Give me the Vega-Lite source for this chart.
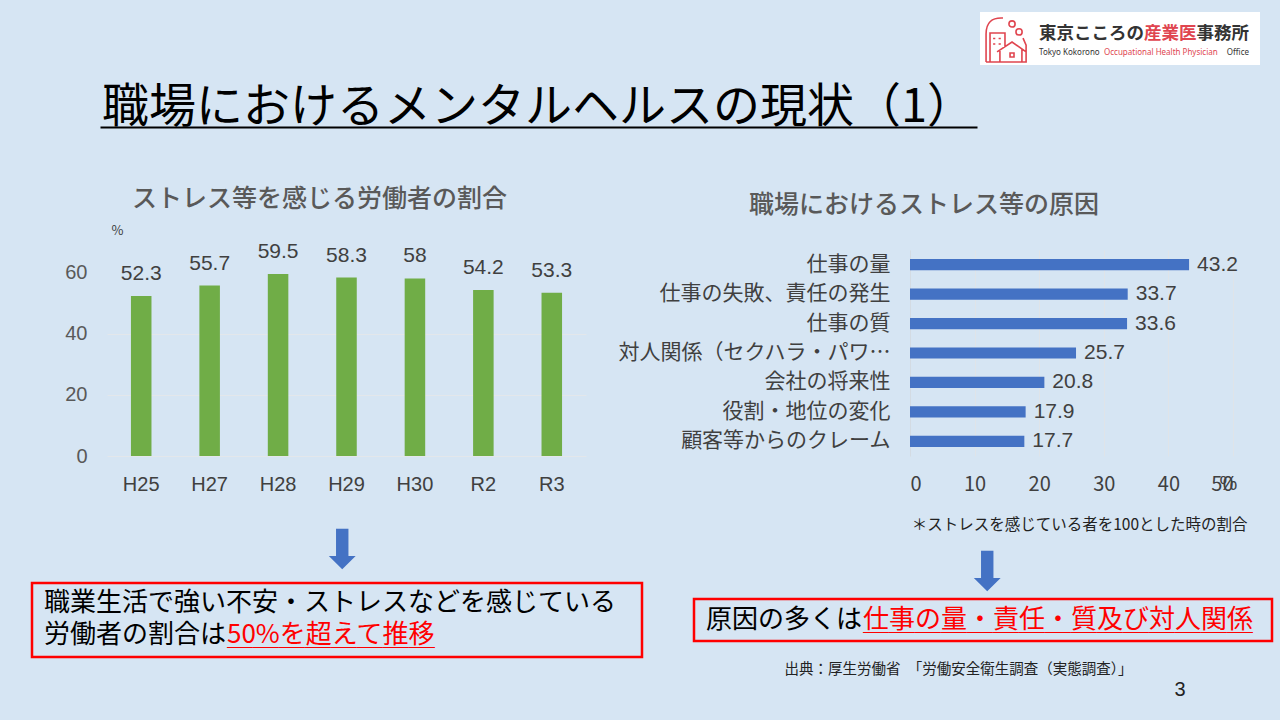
{
  "$schema": "https://vega.github.io/schema/vega-lite/v6.json",
  "background": "#d6e5f3",
  "padding": {"left": 30, "top": 12, "right": 9, "bottom": 16},
  "config": {
    "view": {"stroke": null},
    "font": "Noto Sans CJK JP",
    "title": {"fontWeight": "normal", "color": "#595959", "font": "Noto Sans CJK JP"},
    "axis": {"labelFont": "Noto Sans CJK JP", "titleFont": "Noto Sans CJK JP"}
  },
  "spacing": -10,
  "vconcat": [
    {
      "spacing": 0,
      "bounds": "flush",
      "hconcat": [
        {"width": 68, "height": 185, "data": {"values": [{}]}, "mark": {"type": "text", "fontSize": 0}, "encoding": {"text": {"value": ""}}},
        {
          "width": 877, "height": 115,
          "data": {"values": [{"t": "職場におけるメンタルヘルスの現状（1）"}]},
          "mark": {"type": "text", "align": "left", "baseline": "middle", "fontSize": 47, "dx": 2, "dy": 38, "color": "#000000"},
          "encoding": {
            "text": {"field": "t"},
            "x": {"datum": 0, "type": "quantitative", "scale": {"domain": [0, 1]},
                  "axis": {"domainColor": "#000000", "domainWidth": 2, "labels": false, "ticks": false, "grid": false, "title": null}}
          }
        },
        {"width": 3, "height": 1, "data": {"values": [{}]}, "mark": {"type": "text", "fontSize": 0}, "encoding": {"text": {"value": ""}}},
        {
          "width": 57, "height": 53,
          "view": {"fill": "#ffffff"},
          "data": {"values": [{}]},
          "mark": {"type": "point", "shape": "M-1.02 1.07 L-1.02 -0.2 Q-1.02 -0.98 -0.25 -0.93 M0.3 -0.66 A0.14 0.14 0 1 1 0.02 -0.66 A0.14 0.14 0 1 1 0.3 -0.66 M0.62 -0.3 A0.14 0.14 0 1 1 0.34 -0.3 A0.14 0.14 0 1 1 0.62 -0.3 M0.66 -0.02 L0.8 0.3 L0.8 1.07 L-1.02 1.07 M-0.84 1.07 L-0.84 -0.25 L-0.16 -0.25 L-0.16 0.4 M-0.52 0.61 L0.16 0.16 L0.8 0.61 M-0.39 0.5 L-0.39 1.07 M0.61 0.5 L0.61 1.07 M0.07 0.66 L0.25 0.66 L0.25 0.84 L0.07 0.84 Z M-0.7 0 L-0.6 0 M-0.45 0 L-0.35 0 M-0.7 0.25 L-0.6 0.25 M-0.45 0.25 L-0.35 0.25", "size": 1936, "filled": false, "color": "#e0454f", "strokeWidth": 1.6, "opacity": 1},
          "encoding": {}
        },
        {
          "width": 223, "height": 53,
          "view": {"fill": "#ffffff"},
          "layer": [
            {"data": {"values": [{"t": "東京こころの"}]}, "mark": {"type": "text", "align": "left", "baseline": "middle", "dx": -109.5, "dy": -4.5, "fontSize": 17.5, "fontWeight": "bold", "color": "#333333"}, "encoding": {"text": {"field": "t"}}},
            {"data": {"values": [{"t": "産業医"}]}, "mark": {"type": "text", "align": "left", "baseline": "middle", "dx": -4.5, "dy": -4.5, "fontSize": 17.5, "fontWeight": "bold", "color": "#e0454f"}, "encoding": {"text": {"field": "t"}}},
            {"data": {"values": [{"t": "事務所"}]}, "mark": {"type": "text", "align": "left", "baseline": "middle", "dx": 48, "dy": -4.5, "fontSize": 17.5, "fontWeight": "bold", "color": "#333333"}, "encoding": {"text": {"field": "t"}}},
            {"data": {"values": [{"t": "Tokyo Kokorono"}]}, "mark": {"type": "text", "align": "left", "baseline": "middle", "dx": -109.5, "dy": 14, "fontSize": 8, "font": "Noto Sans", "color": "#333333"}, "encoding": {"text": {"field": "t"}}},
            {"data": {"values": [{"t": "Occupational Health Physician"}]}, "mark": {"type": "text", "align": "left", "baseline": "middle", "dx": -44.5, "dy": 14, "fontSize": 8, "font": "Noto Sans", "color": "#e0454f"}, "encoding": {"text": {"field": "t"}}},
            {"data": {"values": [{"t": "Office"}]}, "mark": {"type": "text", "align": "right", "baseline": "middle", "dx": 100.5, "dy": 14, "fontSize": 8, "font": "Noto Sans", "color": "#333333"}, "encoding": {"text": {"field": "t"}}}
          ]
        }
      ]
    },
    {
      "spacing": 0,
      "bounds": "flush",
      "hconcat": [
        {"width": 75, "height": 1, "data": {"values": [{}]}, "mark": {"type": "text", "fontSize": 0}, "encoding": {"text": {"value": ""}}},
        {
          "width": 479, "height": 206,
          "title": {"text": "ストレス等を感じる労働者の割合", "fontSize": 25, "fontWeight": 500, "anchor": "start", "frame": "group", "dx": 25, "offset": 12, "color": "#595959"},
          "data": {"values": [
            {"year": "H25", "value": 52.3},
            {"year": "H27", "value": 55.7},
            {"year": "H28", "value": 59.5},
            {"year": "H29", "value": 58.3},
            {"year": "H30", "value": 58},
            {"year": "R2", "value": 54.2},
            {"year": "R3", "value": 53.3}
          ]},
          "encoding": {
            "x": {"field": "year", "type": "nominal", "sort": null,
                  "scale": {"paddingInner": 0.7, "paddingOuter": 0.35},
                  "axis": {"title": null, "labelAngle": 0, "labelFontSize": 20, "labelColor": "#404040", "labelFont": "Liberation Sans", "labelPadding": 18, "ticks": false, "domain": false, "grid": false}},
            "y": {"field": "value", "type": "quantitative",
                  "scale": {"domain": [0, 67.3], "nice": false},
                  "axis": {"values": [0, 20, 40, 60], "grid": true, "gridColor": "#e3e7eb",
                           "gridOpacity": {"condition": {"test": "datum.value == 60", "value": 0}, "value": 1},
                           "domain": false, "ticks": false, "labelFontSize": 20, "labelColor": "#595959", "labelFont": "Liberation Sans", "labelPadding": 20,
                           "title": "%", "titleAngle": 0, "titleX": 10, "titleY": -20, "titleAlign": "center", "titleBaseline": "middle", "titleFontSize": 13, "titleFontWeight": "normal", "titleColor": "#404040"}}
          },
          "layer": [
            {"mark": {"type": "bar", "color": "#70ad47"}},
            {"mark": {"type": "text", "baseline": "alphabetic", "dy": -16, "fontSize": 21, "font": "Liberation Sans", "color": "#404040"},
             "encoding": {"text": {"field": "value", "type": "quantitative"}}}
          ]
        },
        {"width": 324, "height": 1, "data": {"values": [{}]}, "mark": {"type": "text", "fontSize": 0}, "encoding": {"text": {"value": ""}}},
        {
          "width": 323, "height": 206,
          "title": {"text": "職場におけるストレス等の原因", "fontSize": 25, "fontWeight": 500, "anchor": "start", "frame": "group", "dx": -161, "offset": 32, "color": "#595959"},
          "data": {"values": [
            {"cause": "仕事の量", "value": 43.2},
            {"cause": "仕事の失敗、責任の発生", "value": 33.7},
            {"cause": "仕事の質", "value": 33.6},
            {"cause": "対人関係（セクハラ・パワ…", "value": 25.7},
            {"cause": "会社の将来性", "value": 20.8},
            {"cause": "役割・地位の変化", "value": 17.9},
            {"cause": "顧客等からのクレーム", "value": 17.7}
          ]},
          "encoding": {
            "y": {"field": "cause", "type": "nominal", "sort": null,
                  "scale": {"paddingInner": 0.62, "paddingOuter": 0.31},
                  "axis": {"labelFontSize": 21, "labelColor": "#404040", "labelPadding": 20, "labelLimit": 400, "ticks": false, "domain": true, "domainColor": "#d3dbe3",
                           "title": "%", "titleAngle": 0, "titleX": 318, "titleY": 233, "titleAlign": "center", "titleBaseline": "middle", "titleFontSize": 20, "titleFontWeight": "normal", "titleColor": "#404040", "titleFont": "Liberation Sans"}},
            "x": {"field": "value", "type": "quantitative",
                  "scale": {"domain": [0, 50], "nice": false},
                  "axis": {"values": [0, 10, 20, 30, 40, 50], "grid": true, "gridColor": "#dfe4e9", "domain": false, "ticks": false,
                           "labelFontSize": 20, "labelColor": "#404040", "labelPadding": 18,
                           "title": "＊ストレスを感じている者を100とした時の割合", "titleFontSize": 15.5, "titleFontWeight": "normal", "titleColor": "#222222",
                           "titleX": 337, "titleY": 68, "titleAlign": "right", "titleBaseline": "middle"}}
          },
          "layer": [
            {"mark": {"type": "bar", "color": "#4472c4"}},
            {"mark": {"type": "text", "align": "left", "baseline": "middle", "dx": 8, "fontSize": 21, "font": "Liberation Sans", "color": "#404040"},
             "encoding": {"text": {"field": "value", "type": "quantitative"}}}
          ]
        }
      ]
    },
    {
      "spacing": 0,
      "bounds": "flush",
      "center": true,
      "hconcat": [
        {
          "width": 610, "height": 74,
          "view": {"stroke": "#ff0000", "strokeWidth": 2.5},
          "title": {"text": "⬇", "font": "DejaVu Sans", "fontSize": 54, "color": "#4472c4", "anchor": "middle", "dx": 5, "offset": 4},
          "layer": [
            {"data": {"values": [{"t": "職業生活で強い不安・ストレスなどを感じている"}]}, "mark": {"type": "text", "align": "left", "baseline": "middle", "dx": -293, "dy": -17, "fontSize": 26, "color": "#000000"}, "encoding": {"text": {"field": "t"}}},
            {"data": {"values": [{"t": "労働者の割合は"}]}, "mark": {"type": "text", "align": "right", "baseline": "middle", "dx": -111, "dy": 15, "fontSize": 26, "color": "#000000"}, "encoding": {"text": {"field": "t"}}},
            {"data": {"values": [{"t": "50%を超えて推移"}]}, "mark": {"type": "text", "align": "left", "baseline": "middle", "dx": -110, "dy": 15, "fontSize": 26, "color": "#ff0000"}, "encoding": {"text": {"field": "t"}}},
            {"data": {"values": [{"t": "＿＿＿＿＿＿＿＿"}]}, "mark": {"type": "text", "align": "left", "baseline": "middle", "dx": -110, "dy": 17, "fontSize": 26, "color": "#ff0000"}, "encoding": {"text": {"field": "t"}}}
          ]
        },
        {"width": 52, "height": 1, "data": {"values": [{}]}, "mark": {"type": "text", "fontSize": 0}, "encoding": {"text": {"value": ""}}},
        {
          "width": 578, "height": 42,
          "view": {"stroke": "#ff0000", "strokeWidth": 2.5},
          "title": {"text": "⬇", "font": "DejaVu Sans", "fontSize": 54, "color": "#4472c4", "anchor": "middle", "dx": 4, "offset": -1.5},
          "layer": [
            {"data": {"values": [{"t": "原因の多くは"}]}, "mark": {"type": "text", "align": "right", "baseline": "middle", "dx": -121, "dy": 0, "fontSize": 26, "color": "#000000"}, "encoding": {"text": {"field": "t"}}},
            {"data": {"values": [{"t": "仕事の量・責任・質及び対人関係"}]}, "mark": {"type": "text", "align": "left", "baseline": "middle", "dx": -120, "dy": 0, "fontSize": 26, "color": "#ff0000"}, "encoding": {"text": {"field": "t"}}},
            {"data": {"values": [{"t": "＿＿＿＿＿＿＿＿＿＿＿＿＿＿＿"}]}, "mark": {"type": "text", "align": "left", "baseline": "middle", "dx": -120, "dy": 2, "fontSize": 26, "color": "#ff0000"}, "encoding": {"text": {"field": "t"}}}
          ]
        }
      ]
    },
    {
      "spacing": 0,
      "bounds": "flush",
      "hconcat": [
        {"width": 755, "height": 1, "data": {"values": [{}]}, "mark": {"type": "text", "fontSize": 0}, "encoding": {"text": {"value": ""}}},
        {"width": 343, "height": 21.5, "data": {"values": [{"t": "出典：厚生労働省　「労働安全衛生調査（実態調査）」"}]}, "mark": {"type": "text", "baseline": "middle", "fontSize": 14.5, "color": "#222222"}, "encoding": {"text": {"field": "t"}}},
        {"width": 40, "height": 1, "data": {"values": [{}]}, "mark": {"type": "text", "fontSize": 0}, "encoding": {"text": {"value": ""}}},
        {"width": 20, "height": 46.75, "data": {"values": [{"t": "3"}]}, "mark": {"type": "text", "baseline": "middle", "fontSize": 20, "dy": 7.4, "font": "Liberation Sans", "color": "#222222"}, "encoding": {"text": {"field": "t"}}}
      ]
    }
  ]
}
